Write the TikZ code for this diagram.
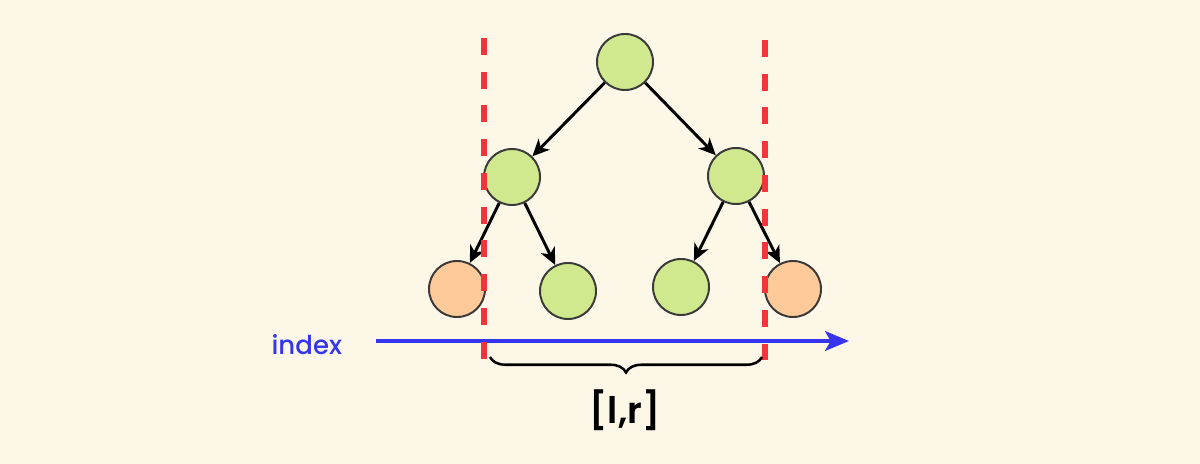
\documentclass[tikz,border=0pt]{standalone}
\usepackage{fontspec}
\setmainfont{Poppins}[UprightFont=* Medium, BoldFont=* SemiBold]
\usetikzlibrary{arrows.meta,decorations.pathreplacing}
\definecolor{bgc}{HTML}{FDF7E7}
\definecolor{leaf}{HTML}{D0E98E}
\definecolor{peach}{HTML}{FFCA99}
\definecolor{rim}{HTML}{3A3A3A}
\definecolor{redl}{HTML}{F5333A}
\definecolor{bluel}{HTML}{3535F0}
\tikzset{
  tn/.style={circle, draw=rim, line width=1.4pt, minimum size=1.4cm, inner sep=0pt},
  gnode/.style={tn, fill=leaf},
  onode/.style={tn, fill=peach},
  edge/.style={line width=2.1pt, -{Stealth[length=12pt,width=11pt,inset=3.5pt]}},
  boundary/.style={redl, line width=4.2pt, dash pattern=on 12pt off 12pt},
}
\begin{document}
\begin{tikzpicture}[x=0.025cm,y=-0.025cm]
\fill[bgc] (0,0) rectangle (1200,464);
\useasboundingbox (0,0) rectangle (1200,464);
% nodes
\node[gnode] (root) at (625,62) {};
\node[gnode] (L) at (512,177) {};
\node[gnode] (R) at (736,176) {};
\node[onode] (LL) at (457,289) {};
\node[gnode] (LR) at (568,291) {};
\node[gnode] (RL) at (681,287) {};
\node[onode] (RR) at (793,289) {};
% edges
\draw[edge] (root) -- (L);
\draw[edge] (root) -- (R);
\draw[edge] (L) -- (LL);
\draw[edge] (L) -- (LR);
\draw[edge] (R) -- (RL);
\draw[edge] (R) -- (RR);
% index axis
\coordinate (a0) at (376,341);
\coordinate (a1) at (849,341);
\draw[bluel, line width=2.9pt, -{Stealth[length=17pt,width=14pt,inset=4pt]}] (a0) -- (a1);
\node[text=bluel, font=\fontsize{18.5}{22}\selectfont, anchor=east] (idx) at (347,345) {index};
% boundaries
\coordinate (lt) at (484,38);
\coordinate (lb) at (484,360);
\coordinate (rt) at (765,40);
\coordinate (rb) at (765,360);
\draw[boundary] (lt) -- (lb);
\draw[boundary] (rt) -- (rb);
% brace
\coordinate (b0) at (490,357);
\coordinate (b1) at (762,357);
\draw[line width=1.8pt, decorate, decoration={brace, mirror, amplitude=11pt}] (b0) -- (b1);
\node[font=\fontsize{26}{30}\bfseries] (lr) at (625,410) {[l,r]};
\end{tikzpicture}
\end{document}
